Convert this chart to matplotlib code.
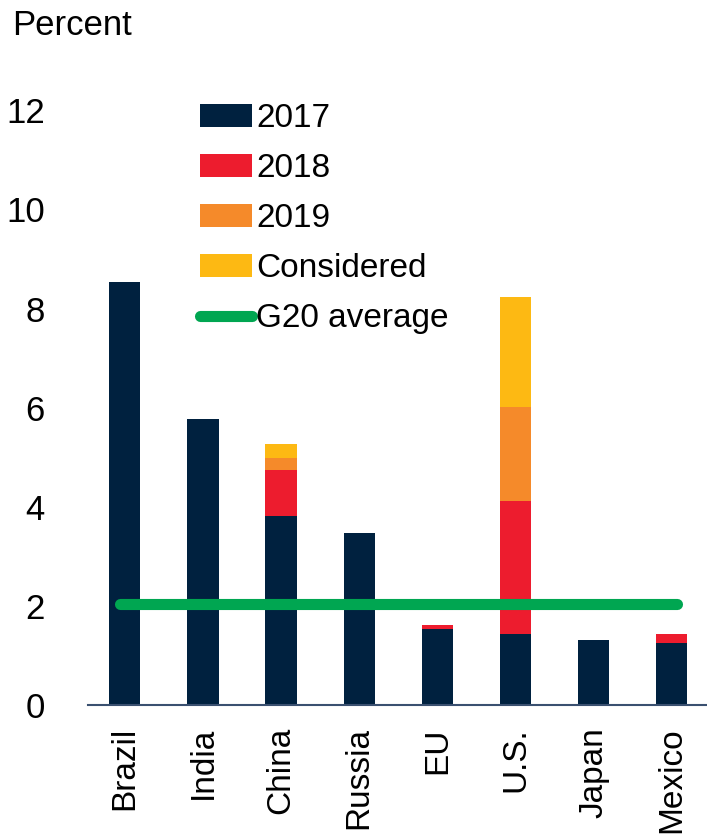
import numpy as np
import matplotlib.pyplot as plt

# tariff rates by country, percent
countries = ["Brazil", "India", "China", "Russia", "EU", "U.S.", "Japan", "Mexico"]
y2017 = [8.53, 5.77, 3.81, 3.47, 1.53, 1.43, 1.31, 1.25]
y2018 = [0.0, 0.0, 0.93, 0.0, 0.08, 2.68, 0.0, 0.18]
y2019 = [0.0, 0.0, 0.24, 0.0, 0.0, 1.90, 0.0, 0.0]
considered = [0.0, 0.0, 0.28, 0.0, 0.0, 2.22, 0.0, 0.0]
g20_avg = 2.04

navy = "#00213f"
red = "#ed1c2e"
orange = "#f58a2a"
yellow = "#fdb913"
green = "#00a651"

plt.rcParams['font.family'] = ['Liberation Sans', 'DejaVu Sans']

fig = plt.figure(figsize=(7.07, 8.40), dpi=100)
ax = fig.add_axes([0.1245, 0.1607, 0.8755, 0.708])

x = np.arange(len(countries))
w = 0.4
b1 = np.array(y2017)
b2 = b1 + np.array(y2018)
b3 = b2 + np.array(y2019)
h1 = ax.bar(x, y2017, w, color=navy, label="2017")
h2 = ax.bar(x, y2018, w, bottom=b1, color=red, label="2018")
h3 = ax.bar(x, y2019, w, bottom=b2, color=orange, label="2019")
h4 = ax.bar(x, considered, w, bottom=b3, color=yellow, label="Considered")
h5, = ax.plot([x[0] - 0.06, x[-1] + 0.06], [g20_avg, g20_avg], color=green, lw=8,
              solid_capstyle='round', label="G20 average")

ax.set_xlim(-0.47, 7.45)
ax.set_ylim(0, 12)
ax.set_yticks([0, 2, 4, 6, 8, 10, 12])
ax.set_xticks(x)
ax.set_xticklabels(countries, rotation=90, fontsize=24)
ax.tick_params(axis='y', labelsize=25, length=0, pad=31)
ax.tick_params(axis='x', length=0, pad=16)
for s in ['top', 'right', 'left']:
    ax.spines[s].set_visible(False)
ax.spines['bottom'].set_color('#3a5070')
ax.spines['bottom'].set_linewidth(1.5)

fig.text(0.017, 0.97, "Percent", fontsize=25, va='center', ha='left')

ax.legend(handles=[h1, h2, h3, h4, h5], loc='upper left', bbox_to_anchor=(0.283, 0.877),
          bbox_transform=fig.transFigure, frameon=False, fontsize=24,
          handlelength=1.56, handleheight=0.66, handletextpad=0.12,
          labelspacing=0.57, borderpad=0, borderaxespad=0)

fig.savefig("out.png", dpi=100)
